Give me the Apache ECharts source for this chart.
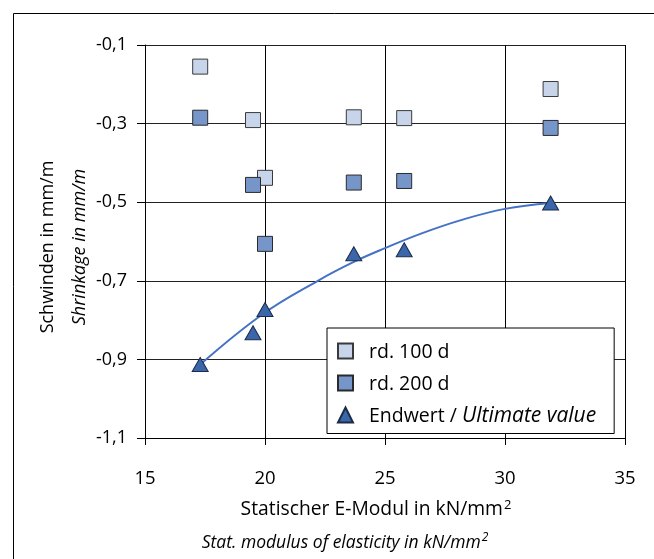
<!DOCTYPE html>
<html>
<head>
<meta charset="utf-8">
<script src="https://cdn.jsdelivr.net/npm/echarts@6/dist/echarts.min.js"></script>
<style>
html,body{margin:0;padding:0;background:#fff;}
#chart{width:654px;height:559px;}
</style>
</head>
<body>
<div id="chart"></div>
<script>
// Data
var xValues = [17.3, 19.5, 20.0, 23.7, 25.8, 31.9];
var rd100 = [-0.155, -0.291, -0.438, -0.284, -0.286, -0.212];
var rd200 = [-0.285, -0.456, -0.606, -0.450, -0.446, -0.311];
var endwert = [-0.913, -0.832, -0.773, -0.631, -0.621, -0.502];
var curveX = [17.3, 19.9, 22.2, 23.7, 25.0, 26.5, 28.2, 30.0, 31.9];
var curveY = [-0.913, -0.785, -0.700, -0.652, -0.617, -0.580, -0.545, -0.517, -0.502];
var xTicks = [15, 20, 25, 30, 35];
var yTicks = [-1.1, -0.9, -0.7, -0.5, -0.3, -0.1];
var seriesNames = ['rd. 100 d', 'rd. 200 d', 'Endwert / Ultimate value'];

function pairs(xs, ys) { return xs.map(function (x, i) { return [x, ys[i]]; }); }

var FONT = '"Open Sans", "Noto Sans", sans-serif';
var chart = echarts.init(document.getElementById('chart'), null, {renderer: 'canvas'});
var option = {
  animation: false,
  backgroundColor: '#fff',
  textStyle: {fontFamily: FONT},
  grid: {left: 145, right: 29, top: 45, bottom: 121, containLabel: false},
  xAxis: {
    type: 'value', min: xTicks[0], max: xTicks[xTicks.length - 1], interval: 5,
    axisLine: {show: true, onZero: false, lineStyle: {color: '#000', width: 1}},
    axisTick: {show: true, inside: false, length: 7, lineStyle: {color: '#000'}},
    axisLabel: {margin: 31, fontSize: 18.5, color: '#000', fontFamily: FONT},
    splitLine: {show: true, lineStyle: {color: '#000', width: 1}}
  },
  yAxis: {
    type: 'value', min: yTicks[0], max: yTicks[yTicks.length - 1], interval: 0.2,
    axisLine: {show: true, onZero: false, lineStyle: {color: '#000', width: 1}},
    axisTick: {show: true, inside: false, length: 8, lineStyle: {color: '#000'}},
    axisLabel: {margin: 18, fontSize: 18, color: '#000', fontFamily: FONT,
      formatter: function (v) { return v.toFixed(1).replace('.', ','); }},
    splitLine: {show: true, lineStyle: {color: '#222', width: 1}}
  },
  legend: {
    orient: 'vertical', left: 327, top: 328,
    data: seriesNames,
    backgroundColor: '#fff', borderColor: '#000', borderWidth: 1,
    padding: [12, 18, 7, 10], itemGap: 10, itemWidth: 15, itemHeight: 15,
    textStyle: {fontSize: 19.5, color: '#000', fontFamily: FONT, lineHeight: 20, padding: [2, 0, 0, 11],
      rich: {n: {fontSize: 19.5, fontFamily: FONT, color: '#000', lineHeight: 20},
             i: {fontSize: 21, fontFamily: FONT, fontStyle: 'italic', color: '#000', lineHeight: 20}}},
    formatter: function (name) {
      if (name === seriesNames[2]) return '{n|Endwert / }{i|Ultimate value}';
      return '{n|' + name + '}';
    }
  },
  series: [
    {
      name: 'curve', type: 'line', data: pairs(curveX, curveY), smooth: 0.4,
      showSymbol: false, symbol: 'none', lineStyle: {color: '#4472C4', width: 2}, z: 2,
      silent: true
    },
    {
      name: seriesNames[0], type: 'scatter', data: pairs(xValues, rd100), symbol: 'rect', symbolSize: 15,
      itemStyle: {color: '#C8D4EA', borderColor: '#3a3a3a', borderWidth: 1, opacity: 1}, z: 3
    },
    {
      name: seriesNames[1], type: 'scatter', data: pairs(xValues, rd200), symbol: 'rect', symbolSize: 15,
      itemStyle: {color: '#7695C9', borderColor: '#2a2a2a', borderWidth: 1, opacity: 1}, z: 3
    },
    {
      name: seriesNames[2], type: 'scatter', data: pairs(xValues, endwert), symbol: 'triangle', symbolSize: [16, 14],
      itemStyle: {color: '#3B66A9', borderColor: '#1c2c48', borderWidth: 1, opacity: 1}, z: 4
    }
  ],
  graphic: [
    {type: 'rect', shape: {x: 13.5, y: 13.5, width: 700, height: 600}, style: {fill: 'none', stroke: '#000', lineWidth: 1}, silent: true, z: 0},
    {type: 'text', x: 48, y: 247, rotation: Math.PI / 2,
      style: {text: 'Schwinden in mm/m', fontSize: 18, fontFamily: FONT, fill: '#000', align: 'center', verticalAlign: 'middle'}},
    {type: 'text', x: 80, y: 247, rotation: Math.PI / 2,
      style: {text: 'Shrinkage in mm/m', fontSize: 18, fontStyle: 'italic', fontFamily: FONT, fill: '#000', align: 'center', verticalAlign: 'middle'}},
    {type: 'text', x: 376, y: 510,
      style: {text: '{a|Statischer E-Modul in kN/mm}{s|2}', align: 'center', verticalAlign: 'middle',
        rich: {a: {fontSize: 19.3, fontFamily: FONT, color: '#000'},
               s: {fontSize: 13, fontFamily: FONT, color: '#000', padding: [0, 0, 10, 1]}}}},
    {type: 'text', x: 345, y: 543,
      style: {text: '{a|Stat. modulus of elasticity in kN/mm}{s|2}', align: 'center', verticalAlign: 'middle',
        rich: {a: {fontSize: 17.5, fontStyle: 'italic', fontFamily: FONT, color: '#000'},
               s: {fontSize: 12, fontStyle: 'italic', fontFamily: FONT, color: '#000', padding: [0, 0, 10, 1]}}}}
  ]
};
chart.setOption(option);
</script>
</body>
</html>
